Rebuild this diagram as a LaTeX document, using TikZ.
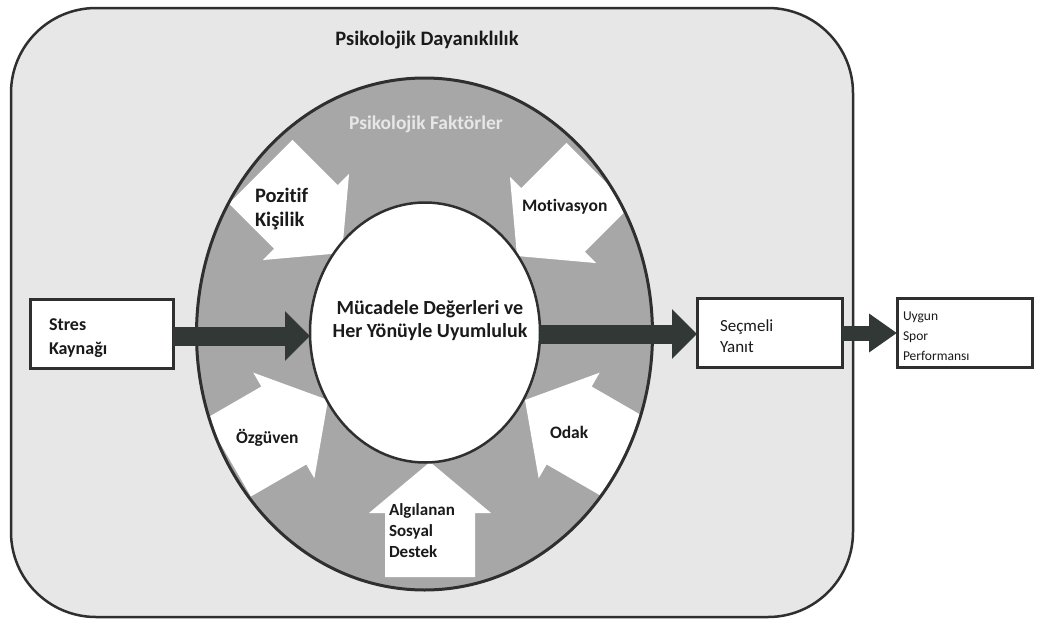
\documentclass[tikz,border=0pt]{standalone}
\usepackage{fontspec}
\setmainfont{Carlito}[Ligatures={NoCommon}]
\usetikzlibrary{shapes.geometric,arrows.meta}
\definecolor{bg}{HTML}{E7E7E7}
\definecolor{ringgray}{HTML}{A7A7A7}
\definecolor{darkarrow}{HTML}{323835}
\definecolor{edge}{HTML}{2F2F2F}
\definecolor{txt}{HTML}{1A1A1A}
\begin{document}
\begin{tikzpicture}[x=1pt,y=-1pt,
  lbl/.style={font=\bfseries\fontsize{17.5}{22}\selectfont, text=txt, inner sep=0pt, outer sep=0pt, align=left},
  boxnode/.style={draw=edge, line width=3pt, fill=white, minimum height=69pt, inner sep=0pt, outer sep=0pt},
  bigarrow/.style={draw=darkarrow, line width=19pt, -{Triangle[length=25pt,width=48pt]}},
  smallarrow/.style={draw=darkarrow, line width=15pt, -{Triangle[length=28pt,width=37pt]}},
  pics/warrow/.style={code={
    \fill[white] (0,0) -- (-51,61) -- (-51,45) -- (-115,45) -- (-115,-45) -- (-51,-45) -- (-51,-61) -- cycle;
  }}]
\useasboundingbox (0,0) rectangle (1050,624);
\fill[white] (0,0) rectangle (1050,624);
% frame
\node[draw=edge, line width=2.5pt, fill=bg, rounded corners=85pt, minimum width=842pt, minimum height=609pt, inner sep=0pt, outer sep=0pt] (frame) at (432,312.5) {};
\node[lbl, anchor=center, font=\bfseries\fontsize{20.5}{24}\selectfont] (title) at (427,40) {Psikolojik Dayanıklılık};
% ring
\node[ellipse, fill=ringgray, minimum width=456pt, minimum height=512pt, inner sep=0pt, outer sep=0pt] (ring) at (424.5,334) {};
\begin{scope}
  \clip (ring.center) ellipse [x radius=226.5pt, y radius=254.5pt];
  \pic[rotate=-45] at (342,253) {warrow};
  \pic[rotate=-135] at (517,256) {warrow};
  \pic[rotate=30] at (328,400) {warrow};
  \pic[rotate=150] at (525,400) {warrow};
  \pic[rotate=90] at (430,462) {warrow};
\end{scope}
\draw[edge, line width=3pt] (ring.center) ellipse [x radius=228pt, y radius=256pt];
\node[ellipse, draw=edge, line width=2.5pt, fill=white, minimum width=230pt, minimum height=260pt, inner sep=0pt, outer sep=0pt] (inner) at (425,332.5) {};
\node[lbl, align=center, font=\bfseries\fontsize{20}{23}\selectfont] (core) at (430,321) {Mücadele Değerleri ve\\Her Yönüyle Uyumluluk};
\node[lbl, text=bg, font=\bfseries\fontsize{19.5}{22}\selectfont] (pf) at (426,124) {Psikolojik Faktörler};
% factor labels
\node[lbl, anchor=west, font=\bfseries\fontsize{20.5}{24}\selectfont] (pozitif) at (255,209) {Pozitif\\Kişilik};
\node[lbl, anchor=west] (motiv) at (522,207) {Motivasyon};
\node[lbl, anchor=west] (ozg) at (236,438) {Özgüven};
\node[lbl, anchor=west] (odak) at (550,432) {Odak};
\node[lbl, anchor=west, font=\bfseries\fontsize{17}{21}\selectfont] (algi) at (389,531) {Algılanan\\Sosyal\\Destek};
% boxes
\node[boxnode, minimum width=143pt] (stres) at (101.5,334) {};
\node[lbl, anchor=west, font=\bfseries\fontsize{18}{24}\selectfont] (stresT) at (49,338) {Stres\\Kaynağı};
\node[boxnode, minimum width=145pt] (secmeli) at (769.5,333) {};
\node[lbl, anchor=west, font=\fontsize{17}{21}\selectfont] (secT) at (720,336) {Seçmeli\\Yanıt};
\node[boxnode, minimum width=135pt] (uygun) at (964.5,333) {};
\node[lbl, anchor=west, font=\fontsize{13.5}{20}\selectfont] (uygT) at (903,336) {Uygun\\Spor\\Performansı};
% main arrows
\draw[bigarrow] ([yshift=-2pt]stres.east) -- ([yshift=-2pt]stres.east -| inner.west);
\draw[bigarrow] ([yshift=-1pt]secmeli.west -| inner.east) -- ([yshift=-1pt]secmeli.west);
\draw[smallarrow] (secmeli.east) -- (uygun.west);
\end{tikzpicture}
\end{document}
